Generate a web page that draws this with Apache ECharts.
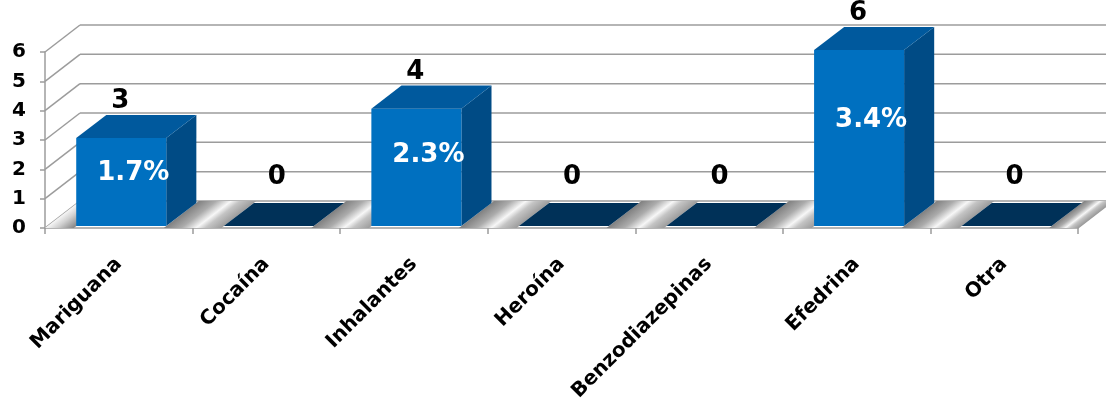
<!DOCTYPE html>
<html>
<head>
<meta charset="utf-8">
<script src="https://cdn.jsdelivr.net/npm/echarts@6/dist/echarts.min.js"></script>
<style>
  html, body { margin: 0; padding: 0; background: #ffffff; }
  #chart { width: 1106px; height: 404px; }
</style>
</head>
<body>
<div id="chart"></div>
<script>
// Consumo de sustancias por tipo
const categories = ['Mariguana', 'Cocaína', 'Inhalantes', 'Heroína', 'Benzodiazepinas', 'Efedrina', 'Otra'];
const counts = [3, 0, 4, 0, 0, 6, 0];
const percents = [1.7, null, 2.3, null, null, 3.4, null];
const yTicks = [0, 1, 2, 3, 4, 5, 6];

// Pseudo-3D projection of the plot box
const DEPTH_X = 35, DEPTH_Y = -27;     // offset from front plane to back wall
const BAR_FRONT = 0.07, BAR_BACK = 0.93; // bar depth span inside the box
const BAR_RATIO = 0.61;                 // bar width relative to category band
const FONT = 'DejaVu Sans, Verdana, sans-serif';

const COLORS = {
  front: '#0070c0',
  top: '#00599d',
  side: '#004b85',
  empty: '#003158',
  grid: '#9c9c9c'
};

const chart = echarts.init(document.getElementById('chart'), null, { renderer: 'canvas' });

function barGeometry(api, i, v) {
  const base = api.coord([i, 0]);
  const top = api.coord([i, v]);
  const band = api.size([1, 0])[0];
  const w = band * BAR_RATIO;
  const fx = DEPTH_X * BAR_FRONT, fy = DEPTH_Y * BAR_FRONT;
  const x0 = base[0] - w / 2 + fx;
  return {
    x0: x0, x1: x0 + w, cx: base[0] + fx,
    yb: base[1] + fy, yt: top[1] + fy,
    bdx: DEPTH_X * (BAR_BACK - BAR_FRONT), bdy: DEPTH_Y * (BAR_BACK - BAR_FRONT),
    band: band, w: w
  };
}

// Back wall and side wall gridlines, one per tick value
function renderWalls(params, api) {
  const t = api.value(1);
  const cs = params.coordSys;
  const y = api.coord([0, t])[1];
  const xl = cs.x, xr = cs.x + cs.width;
  const style = { stroke: COLORS.grid, lineWidth: 1.5 };
  const children = [
    { type: 'line', shape: { x1: xl, y1: y, x2: xl + DEPTH_X, y2: y + DEPTH_Y }, style: style },
    { type: 'line', shape: { x1: xl + DEPTH_X, y1: y + DEPTH_Y, x2: xr + DEPTH_X, y2: y + DEPTH_Y }, style: style }
  ];
  if (t === 0) {
    children.push({ type: 'line', shape: { x1: xr, y1: y, x2: xr + DEPTH_X, y2: y + DEPTH_Y }, style: style });
  }
  return { type: 'group', children: children };
}

// Metallic floor strips between the bars
function floorStrip(L, R, y0, stops) {
  const len = Math.hypot(DEPTH_X, DEPTH_Y);
  const nx = -DEPTH_Y / len, ny = DEPTH_X / len;
  const d = (R - L) * nx;
  const grad = new echarts.graphic.LinearGradient(L, y0, L + nx * d, y0 + ny * d, stops, true);
  return {
    type: 'polygon',
    shape: { points: [[L, y0], [R, y0], [R + DEPTH_X, y0 + DEPTH_Y], [L + DEPTH_X, y0 + DEPTH_Y]] },
    style: { fill: grad }
  };
}
const STOPS_MID = [
  { offset: 0, color: '#808080' },
  { offset: 0.3, color: '#ababab' },
  { offset: 0.56, color: '#f7f7f7' },
  { offset: 0.72, color: '#c4c4c4' },
  { offset: 1, color: '#9c9c9c' }
];
const STOPS_FIRST = [
  { offset: 0, color: '#f7f7f7' },
  { offset: 0.4, color: '#d0d0d0' },
  { offset: 1, color: '#858585' }
];

function renderFloor(params, api) {
  const i = api.value(0);
  const cs = params.coordSys;
  const base = api.coord([i, 0]);
  const band = api.size([1, 0])[0];
  const w = band * BAR_RATIO;
  const y0 = base[1];
  const left = base[0] - w / 2;
  const prevRight = i === 0 ? cs.x : api.coord([i - 1, 0])[0] + w / 2;
  const children = [floorStrip(prevRight, left, y0, i === 0 ? STOPS_FIRST : STOPS_MID)];
  if (i === categories.length - 1) {
    children.push(floorStrip(base[0] + w / 2, cs.x + cs.width, y0, STOPS_MID));
  }
  return { type: 'group', children: children };
}

function renderBar(params, api) {
  const i = api.value(0), v = api.value(1);
  const g = barGeometry(api, i, v);
  const children = [];
  if (v > 0) {
    children.push({
      type: 'polygon',
      shape: { points: [[g.x1, g.yb], [g.x1 + g.bdx, g.yb + g.bdy], [g.x1 + g.bdx, g.yt + g.bdy], [g.x1, g.yt]] },
      style: { fill: COLORS.side }
    });
    children.push({
      type: 'rect',
      shape: { x: g.x0, y: g.yt, width: g.w, height: g.yb - g.yt },
      style: { fill: COLORS.front }
    });
    children.push({
      type: 'polygon',
      shape: { points: [[g.x0, g.yt], [g.x1, g.yt], [g.x1 + g.bdx, g.yt + g.bdy], [g.x0 + g.bdx, g.yt + g.bdy]] },
      style: { fill: COLORS.top }
    });
  } else {
    children.push({
      type: 'polygon',
      shape: { points: [[g.x0, g.yb], [g.x1, g.yb], [g.x1 + g.bdx, g.yb + g.bdy], [g.x0 + g.bdx, g.yb + g.bdy]] },
      style: { fill: COLORS.empty }
    });
  }
  // count above the bar
  const lx = v === 0 ? g.cx + 8 : g.cx - 1;
  const ly = g.yt - 37 - (v === 0 ? 12 : 0);
  children.push({
    type: 'text', z2: 10,
    style: {
      x: lx, y: ly, text: String(v), align: 'center', verticalAlign: 'middle',
      fill: '#000000', font: 'bold 26px ' + FONT
    }
  });
  // share inside the bar
  const p = percents[i];
  if (p != null) {
    children.push({
      type: 'text', z2: 10,
      style: {
        x: g.cx + 12, y: g.yt + 0.4 * (g.yb - g.yt),
        text: p.toFixed(1) + '%', align: 'center', verticalAlign: 'middle',
        fill: '#ffffff', font: 'bold 26px ' + FONT,
        shadowColor: 'rgba(0,0,0,0.45)', shadowBlur: 2, shadowOffsetX: 1, shadowOffsetY: 1
      }
    });
  }
  return { type: 'group', children: children };
}

const option = {
  backgroundColor: '#ffffff',
  animation: false,
  grid: { left: 45, right: 28, top: 52, bottom: 176, containLabel: false, outerBoundsMode: 'none' },
  xAxis: {
    type: 'category',
    data: categories,
    boundaryGap: true,
    axisLine: { show: true, lineStyle: { color: COLORS.grid, width: 1.5 } },
    axisTick: { show: true, length: 6, lineStyle: { color: COLORS.grid, width: 1.5 } },
    axisLabel: {
      rotate: 45, margin: 33, interval: 0,
      color: '#000000', fontFamily: FONT, fontWeight: 'bold', fontSize: 20
    },
    splitLine: { show: false }
  },
  yAxis: {
    type: 'value',
    min: 0, max: 6, interval: 1,
    axisLine: { show: true, lineStyle: { color: COLORS.grid, width: 1.5 } },
    axisTick: { show: true, length: 5, lineStyle: { color: COLORS.grid, width: 1.5 } },
    axisLabel: {
      margin: 19, color: '#000000', fontFamily: FONT, fontWeight: 'bold', fontSize: 20
    },
    splitLine: { show: false }
  },
  series: [
    {
      type: 'custom', z: 1, clip: false, silent: true,
      renderItem: renderWalls,
      data: yTicks.map(t => [0, t])
    },
    {
      type: 'custom', z: 2, clip: false, silent: true,
      renderItem: renderFloor,
      data: categories.map((c, i) => [i, 0])
    },
    {
      type: 'custom', z: 3, clip: false,
      renderItem: renderBar,
      data: counts.map((v, i) => [i, v])
    }
  ]
};

chart.setOption(option);
</script>
</body>
</html>
